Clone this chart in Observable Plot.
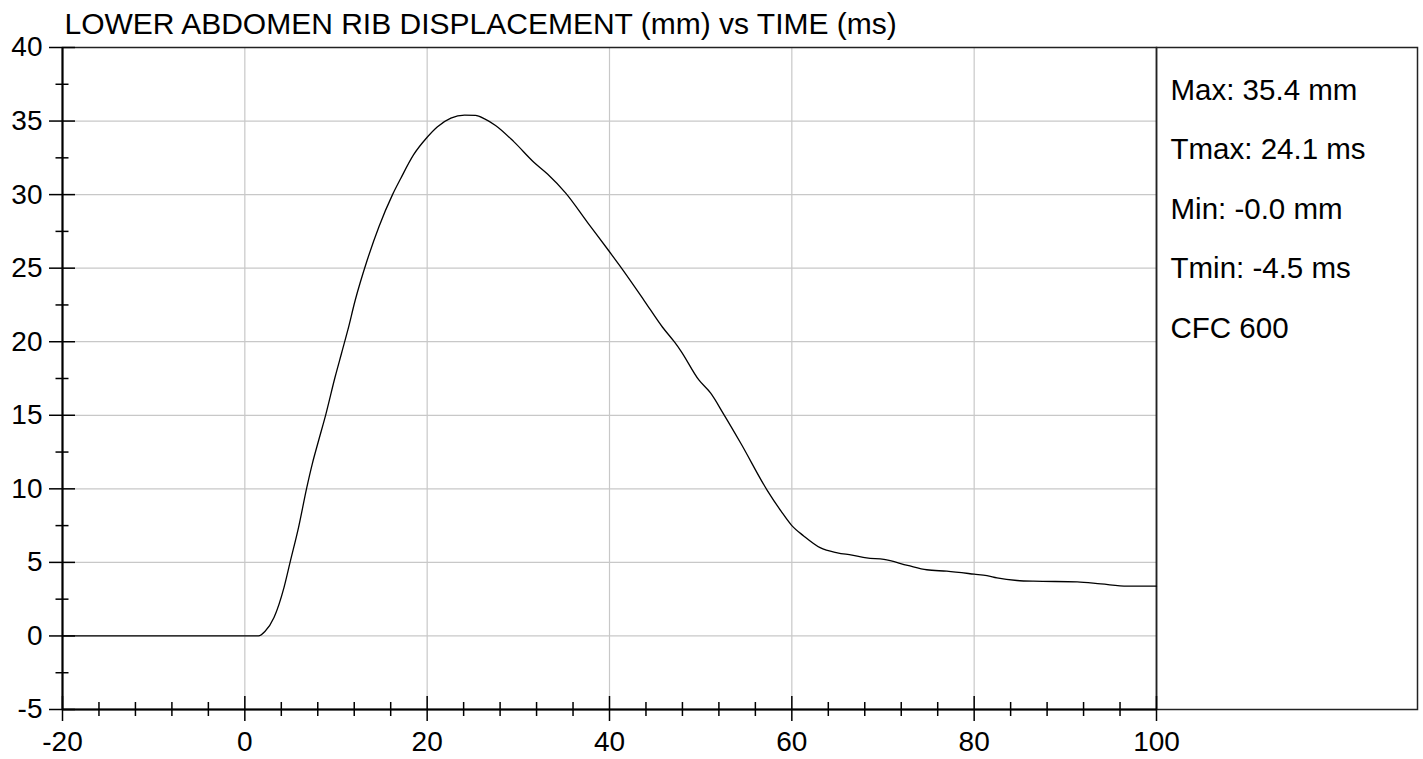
<!DOCTYPE html>
<html>
<head>
<meta charset="utf-8">
<script src="https://cdn.jsdelivr.net/npm/d3@7"></script>
<script src="https://cdn.jsdelivr.net/npm/@observablehq/plot@0.6"></script>
<style>
  html, body { margin: 0; padding: 0; background: #fff; }
</style>
</head>
<body>
<div id="chart"></div>
<script>
const title = "LOWER ABDOMEN RIB DISPLACEMENT (mm) vs TIME (ms)";
const time = [-20, -10, 0, 1.5, 2.2, 3.2, 4.3, 5.0, 5.9, 6.8, 7.4, 8.1, 8.9, 9.9, 10.6, 11.3, 12.1, 13.4, 14.7, 16.2, 17.1, 18.5, 20.0, 21.1, 22.6, 24.1, 25.3, 26.3, 27.5, 29.5, 31.7, 33.2, 35.2, 37.6, 39.9, 41.2, 43.8, 45.8, 47.1, 47.8, 49.8, 51.1, 52.5, 54.4, 57.3, 58.8, 60.0, 61.3, 63.1, 65.0, 66.6, 68.2, 70.1, 72.7, 74.8, 77.0, 80.0, 81.4, 82.5, 84.7, 86.5, 91.3, 93.9, 96.8, 100];
const displacement = [0, 0, 0, 0, 0.3, 1.25, 3.3, 5.1, 7.4, 10.1, 11.7, 13.3, 15.1, 17.6, 19.2, 20.8, 22.8, 25.5, 27.8, 30.0, 31.1, 32.7, 33.9, 34.6, 35.2, 35.4, 35.38, 35.15, 34.7, 33.6, 32.2, 31.4, 30.1, 28.1, 26.2, 25.1, 22.8, 21.0, 20.0, 19.4, 17.4, 16.5, 15.1, 13.1, 9.9, 8.5, 7.5, 6.8, 6.0, 5.65, 5.5, 5.3, 5.2, 4.8, 4.5, 4.4, 4.2, 4.1, 3.95, 3.77, 3.72, 3.68, 3.54, 3.38, 3.38];
const xMajor = [-20, 0, 20, 40, 60, 80, 100];
const xMinor = [-16, -12, -8, -4, 4, 8, 12, 16, 24, 28, 32, 36, 44, 48, 52, 56, 64, 68, 72, 76, 84, 88, 92, 96];
const xGrid = [0, 20, 40, 60, 80];
const yMajor = [-5, 0, 5, 10, 15, 20, 25, 30, 35, 40];
const yMinor = [-2.5, 2.5, 7.5, 12.5, 17.5, 22.5, 27.5, 32.5, 37.5];
const yGrid = [0, 5, 10, 15, 20, 25, 30, 35];
const statLabels = ["Max: 35.4 mm", "Tmax: 24.1 ms", "Min: -0.0 mm", "Tmin: -4.5 ms", "CFC 600"];

const data = time.map((t, i) => ({t, v: displacement[i]}));

const W = 1423, H = 759;
const mL = 62, mR = 267, mT = 47, mB = 50;
const fw = W - mL - mR, fh = H - mT - mB;
const panelW = 261;

const chart = Plot.plot({
  width: W,
  height: H,
  marginLeft: mL,
  marginRight: mR,
  marginTop: mT,
  marginBottom: mB,
  style: {fontFamily: "'Liberation Sans', Arial, sans-serif", background: "#fff", color: "#000"},
  x: {domain: [-20, 100], label: null},
  y: {domain: [-5, 40], label: null},
  marks: [
    Plot.ruleX(xGrid, {stroke: "#c8c8c8", strokeWidth: 1.2}),
    Plot.ruleY(yGrid, {stroke: "#c8c8c8", strokeWidth: 1.2}),
    Plot.frame({stroke: "#222", strokeWidth: 1.5}),
    Plot.frame({stroke: "#222", strokeWidth: 1.5, insetLeft: fw, insetRight: -panelW}),
    Plot.line(data, {x: "t", y: "v", stroke: "#000", strokeWidth: 1.3, curve: "monotone-x"}),
    Plot.ruleX([-20], {stroke: "#000", strokeWidth: 2}),
    Plot.ruleY([-5], {stroke: "#000", strokeWidth: 2}),
    Plot.ruleY(yMajor, {stroke: "#000", strokeWidth: 1.5, insetLeft: -13, insetRight: fw - 13}),
    Plot.ruleY(yMinor, {stroke: "#000", strokeWidth: 1.5, insetLeft: -6.5, insetRight: fw - 6.5}),
    Plot.ruleX(xMajor, {stroke: "#000", strokeWidth: 1.5, insetTop: fh - 13, insetBottom: -12}),
    Plot.ruleX(xMinor, {stroke: "#000", strokeWidth: 1.5, insetTop: fh - 7, insetBottom: -7}),
    Plot.axisY({ticks: yMajor, tickSize: 0, tickPadding: 20, fontSize: 28, label: null, tickFormat: d => String(d)}),
    Plot.axisX({ticks: xMajor, tickSize: 0, tickPadding: 22, fontSize: 28, label: null, tickFormat: d => String(d)}),
    Plot.text([title], {frameAnchor: "top-left", textAnchor: "start", lineAnchor: "bottom", dx: 2, dy: -14, fontSize: 30, fill: "#000"}),
    ...statLabels.map((s, i) => Plot.text([s], {frameAnchor: "top-right", textAnchor: "start", lineAnchor: "bottom", dx: 14, dy: 52 + i * 59.5, fontSize: 29.5, fill: "#000"}))
  ]
});
document.getElementById("chart").appendChild(chart);
</script>
</body>
</html>
